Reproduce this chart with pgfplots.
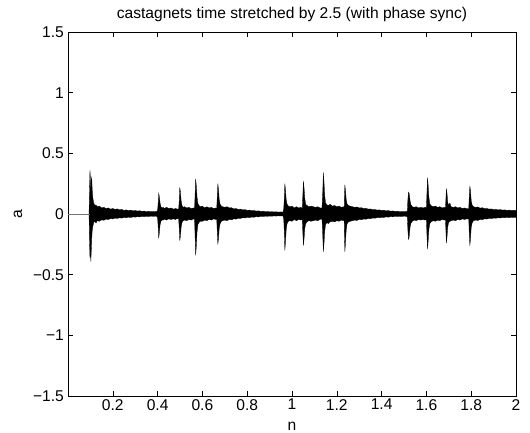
\documentclass[border=0pt]{standalone}
\usepackage{fontspec}
\setmainfont{Liberation Sans}
\usepackage{pgfplots}
\pgfplotsset{compat=1.18}
\usepgfplotslibrary{fillbetween}
\begin{document}
\fontsize{15.6}{18}\selectfont
\begin{tikzpicture}
\begin{axis}[
  name=ax,
  scale only axis, width=448pt, height=364pt,
  xmin=0, xmax=2, ymin=-1.5, ymax=1.5,
  xtick={0.2,0.4,0.6,0.8,1,1.2,1.4,1.6,1.8,2},
  xticklabels={0.2,0.4,0.6,0.8,1,1.2,1.4,1.6,1.8,2},
  ytick={-1.5,-1,-0.5,0,0.5,1,1.5},
  yticklabels={−1.5,−1,−0.5,0,0.5,1,1.5},
  tick align=inside, xtick pos=both, ytick pos=both,
  major tick length=5pt,
  tick style={black, line width=0.5pt},
  axis line style={line width=0.6pt},
  title={castagnets time stretched by 2.5 (with phase sync)},
  title style={inner sep=0pt, anchor=base, yshift=7pt},
  xlabel={n}, ylabel={a},
  xlabel style={inner sep=0pt, anchor=base, at={(axis description cs:0.5,0)}, yshift=-34pt},
  every axis y label/.style={at={(axis description cs:-0.1116,0.5)}, rotate=90, anchor=center, inner sep=0pt},
  xticklabel style={inner sep=0pt, anchor=north, yshift=-3pt},
  yticklabel style={inner sep=0pt, anchor=east, xshift=-4pt},
  /pgf/number format/assume math mode=true,
  clip=true,
]
\addplot[black!55, line width=0.8pt] coordinates {(0,0) (0.096,0)};
\addplot[name path=up, black, line width=0.3pt] coordinates {
(0.094,0.0)(0.096,0.18)(0.098,0.36)(0.100,0.3)(0.102,0.2)(0.104,0.28)(0.106,0.30)(0.108,0.2)(0.111,0.13)(0.115,0.09)(0.12,0.07)(0.125,0.075)(0.13,0.06)(0.14,0.065)(0.15,0.05)(0.16,0.055)(0.17,0.045)(0.18,0.05)(0.19,0.04)(0.2,0.045)(0.21,0.038)(0.22,0.042)(0.23,0.034)(0.24,0.038)(0.25,0.03)(0.26,0.034)(0.27,0.028)(0.28,0.032)(0.29,0.026)(0.30,0.029)(0.31,0.024)(0.32,0.027)(0.33,0.022)(0.34,0.024)(0.35,0.02)(0.36,0.022)(0.37,0.019)(0.38,0.021)(0.395,0.019)
(0.400,0.03)(0.403,0.1)(0.405,0.17)(0.408,0.14)(0.411,0.09)(0.415,0.06)(0.42,0.05)(0.425,0.055)(0.43,0.045)(0.44,0.055)(0.45,0.045)(0.46,0.05)(0.47,0.04)(0.48,0.045)(0.49,0.04)
(0.494,0.04)(0.497,0.12)(0.499,0.22)(0.502,0.18)(0.505,0.11)(0.509,0.07)(0.514,0.055)(0.52,0.06)(0.53,0.05)(0.54,0.055)(0.55,0.045)(0.56,0.05)(0.565,0.045)
(0.567,0.14)(0.570,0.29)(0.573,0.23)(0.576,0.14)(0.58,0.085)(0.585,0.07)(0.59,0.06)(0.6,0.065)(0.61,0.05)(0.62,0.06)(0.63,0.05)(0.64,0.055)(0.65,0.045)(0.66,0.05)(0.664,0.045)
(0.666,0.13)(0.669,0.25)(0.672,0.2)(0.675,0.12)(0.679,0.08)(0.685,0.065)(0.69,0.06)(0.7,0.055)(0.71,0.06)(0.72,0.05)(0.73,0.052)(0.74,0.042)(0.75,0.045)(0.76,0.038)(0.77,0.04)(0.78,0.034)(0.79,0.036)(0.8,0.03)(0.81,0.032)(0.82,0.027)(0.83,0.029)(0.84,0.024)(0.85,0.026)(0.86,0.022)(0.87,0.023)(0.88,0.02)(0.89,0.021)(0.9,0.018)(0.91,0.019)(0.92,0.017)(0.93,0.018)(0.94,0.016)(0.95,0.017)(0.96,0.016)
(0.963,0.04)(0.966,0.14)(0.968,0.25)(0.971,0.2)(0.974,0.12)(0.978,0.08)(0.984,0.065)(0.99,0.06)(1.0,0.065)(1.01,0.05)(1.02,0.06)(1.03,0.05)(1.04,0.055)(1.046,0.045)
(1.048,0.14)(1.051,0.27)(1.054,0.21)(1.057,0.13)(1.061,0.08)(1.067,0.07)(1.075,0.06)(1.085,0.065)(1.095,0.06)(1.105,0.055)(1.115,0.06)(1.125,0.05)(1.134,0.05)
(1.137,0.17)(1.140,0.34)(1.143,0.26)(1.146,0.15)(1.15,0.09)(1.156,0.075)(1.162,0.07)(1.17,0.08)(1.18,0.065)(1.19,0.07)(1.2,0.06)(1.21,0.065)(1.22,0.055)(1.23,0.06)(1.233,0.05)
(1.234,0.13)(1.236,0.24)(1.239,0.19)(1.242,0.12)(1.246,0.08)(1.252,0.07)(1.26,0.065)(1.27,0.06)(1.28,0.055)(1.29,0.058)(1.3,0.05)(1.31,0.052)(1.32,0.045)(1.33,0.047)(1.34,0.04)(1.35,0.042)(1.36,0.036)(1.37,0.038)(1.38,0.032)(1.39,0.034)(1.4,0.029)(1.41,0.031)(1.42,0.026)(1.43,0.028)(1.44,0.024)(1.45,0.025)(1.46,0.022)(1.47,0.023)(1.48,0.02)(1.49,0.021)(1.5,0.019)(1.51,0.02)(1.515,0.025)
(1.517,0.11)(1.520,0.18)(1.523,0.17)(1.527,0.11)(1.531,0.075)(1.537,0.06)(1.545,0.055)(1.555,0.06)(1.565,0.05)(1.575,0.055)(1.585,0.05)(1.595,0.055)(1.600,0.05)
(1.602,0.15)(1.605,0.30)(1.608,0.23)(1.611,0.14)(1.615,0.085)(1.62,0.07)(1.63,0.06)(1.64,0.065)(1.65,0.055)(1.66,0.06)(1.67,0.05)(1.68,0.055)(1.685,0.05)
(1.687,0.12)(1.689,0.21)(1.692,0.17)(1.695,0.1)(1.699,0.07)(1.705,0.09)(1.71,0.06)(1.72,0.055)(1.73,0.06)(1.74,0.05)(1.75,0.055)(1.76,0.045)(1.77,0.05)(1.78,0.045)(1.789,0.045)
(1.791,0.13)(1.794,0.23)(1.797,0.19)(1.8,0.11)(1.804,0.075)(1.81,0.06)(1.82,0.055)(1.83,0.058)(1.84,0.048)(1.85,0.052)(1.86,0.043)(1.87,0.046)(1.88,0.04)(1.89,0.042)(1.9,0.036)(1.91,0.038)(1.92,0.034)(1.93,0.036)(1.94,0.032)(1.95,0.034)(1.96,0.03)(1.97,0.032)(1.98,0.029)(1.99,0.031)(2.0,0.029)
};
\addplot[name path=lo, black, line width=0.3pt] coordinates {
(0.094,0.0)(0.096,-0.22)(0.098,-0.36)(0.100,-0.3)(0.102,-0.39)(0.104,-0.3)(0.106,-0.2)(0.108,-0.14)(0.111,-0.1)(0.115,-0.07)(0.12,-0.06)(0.125,-0.075)(0.13,-0.055)(0.14,-0.06)(0.15,-0.048)(0.16,-0.052)(0.17,-0.042)(0.18,-0.046)(0.19,-0.037)(0.2,-0.041)(0.21,-0.034)(0.22,-0.037)(0.23,-0.031)(0.24,-0.034)(0.25,-0.028)(0.26,-0.031)(0.27,-0.026)(0.28,-0.029)(0.29,-0.024)(0.30,-0.026)(0.31,-0.022)(0.32,-0.024)(0.33,-0.02)(0.34,-0.022)(0.35,-0.019)(0.36,-0.02)(0.37,-0.018)(0.38,-0.019)(0.395,-0.018)
(0.400,-0.03)(0.403,-0.12)(0.405,-0.2)(0.408,-0.15)(0.411,-0.09)(0.415,-0.06)(0.42,-0.05)(0.425,-0.05)(0.43,-0.042)(0.44,-0.05)(0.45,-0.04)(0.46,-0.045)(0.47,-0.04)(0.48,-0.045)(0.49,-0.035)
(0.494,-0.04)(0.497,-0.13)(0.499,-0.22)(0.502,-0.18)(0.505,-0.11)(0.509,-0.07)(0.514,-0.055)(0.52,-0.05)(0.53,-0.055)(0.54,-0.045)(0.55,-0.05)(0.56,-0.04)(0.565,-0.045)
(0.567,-0.16)(0.570,-0.34)(0.573,-0.26)(0.576,-0.15)(0.58,-0.085)(0.585,-0.07)(0.59,-0.06)(0.6,-0.06)(0.61,-0.05)(0.62,-0.055)(0.63,-0.045)(0.64,-0.05)(0.65,-0.04)(0.66,-0.045)(0.664,-0.045)
(0.666,-0.13)(0.669,-0.25)(0.672,-0.2)(0.675,-0.12)(0.679,-0.08)(0.685,-0.06)(0.69,-0.055)(0.7,-0.05)(0.71,-0.055)(0.72,-0.045)(0.73,-0.048)(0.74,-0.04)(0.75,-0.042)(0.76,-0.035)(0.77,-0.037)(0.78,-0.031)(0.79,-0.033)(0.8,-0.028)(0.81,-0.03)(0.82,-0.025)(0.83,-0.027)(0.84,-0.022)(0.85,-0.024)(0.86,-0.02)(0.87,-0.021)(0.88,-0.018)(0.89,-0.019)(0.9,-0.017)(0.91,-0.018)(0.92,-0.016)(0.93,-0.017)(0.94,-0.015)(0.95,-0.016)(0.96,-0.015)
(0.963,-0.04)(0.966,-0.16)(0.968,-0.30)(0.971,-0.23)(0.974,-0.13)(0.978,-0.08)(0.984,-0.06)(0.99,-0.055)(1.0,-0.06)(1.01,-0.045)(1.02,-0.055)(1.03,-0.045)(1.04,-0.05)(1.046,-0.045)
(1.048,-0.14)(1.051,-0.26)(1.054,-0.2)(1.057,-0.12)(1.061,-0.08)(1.067,-0.065)(1.075,-0.055)(1.085,-0.06)(1.095,-0.055)(1.105,-0.05)(1.115,-0.055)(1.125,-0.045)(1.134,-0.045)
(1.137,-0.16)(1.140,-0.31)(1.143,-0.24)(1.146,-0.14)(1.15,-0.085)(1.156,-0.07)(1.162,-0.08)(1.17,-0.065)(1.18,-0.06)(1.19,-0.065)(1.2,-0.055)(1.21,-0.06)(1.22,-0.05)(1.23,-0.055)(1.233,-0.05)
(1.234,-0.16)(1.236,-0.31)(1.239,-0.23)(1.242,-0.13)(1.246,-0.08)(1.252,-0.065)(1.26,-0.06)(1.27,-0.055)(1.28,-0.05)(1.29,-0.053)(1.3,-0.045)(1.31,-0.047)(1.32,-0.041)(1.33,-0.043)(1.34,-0.037)(1.35,-0.039)(1.36,-0.033)(1.37,-0.035)(1.38,-0.03)(1.39,-0.031)(1.4,-0.027)(1.41,-0.028)(1.42,-0.024)(1.43,-0.026)(1.44,-0.022)(1.45,-0.023)(1.46,-0.02)(1.47,-0.021)(1.48,-0.019)(1.49,-0.02)(1.5,-0.018)(1.51,-0.019)(1.515,-0.025)
(1.517,-0.12)(1.520,-0.21)(1.523,-0.19)(1.527,-0.11)(1.531,-0.075)(1.537,-0.06)(1.545,-0.05)(1.555,-0.055)(1.565,-0.045)(1.575,-0.05)(1.585,-0.045)(1.595,-0.05)(1.600,-0.045)
(1.602,-0.15)(1.605,-0.29)(1.608,-0.22)(1.611,-0.13)(1.615,-0.08)(1.62,-0.065)(1.63,-0.055)(1.64,-0.06)(1.65,-0.05)(1.66,-0.055)(1.67,-0.045)(1.68,-0.05)(1.685,-0.045)
(1.687,-0.13)(1.689,-0.24)(1.692,-0.19)(1.695,-0.11)(1.699,-0.07)(1.705,-0.06)(1.71,-0.055)(1.72,-0.05)(1.73,-0.055)(1.74,-0.045)(1.75,-0.05)(1.76,-0.04)(1.77,-0.045)(1.78,-0.04)(1.789,-0.04)
(1.791,-0.14)(1.794,-0.26)(1.797,-0.2)(1.8,-0.11)(1.804,-0.075)(1.81,-0.055)(1.82,-0.05)(1.83,-0.053)(1.84,-0.044)(1.85,-0.047)(1.86,-0.039)(1.87,-0.042)(1.88,-0.036)(1.89,-0.038)(1.9,-0.033)(1.91,-0.035)(1.92,-0.031)(1.93,-0.033)(1.94,-0.029)(1.95,-0.031)(1.96,-0.028)(1.97,-0.03)(1.98,-0.027)(1.99,-0.029)(2.0,-0.027)
};
\addplot[black] fill between[of=up and lo];
\end{axis}
\pgfresetboundingbox
\path (ax.south west) ++(-68pt,-36pt) rectangle ([shift={(14pt,32pt)}]ax.north east);
\end{tikzpicture}
\end{document}
